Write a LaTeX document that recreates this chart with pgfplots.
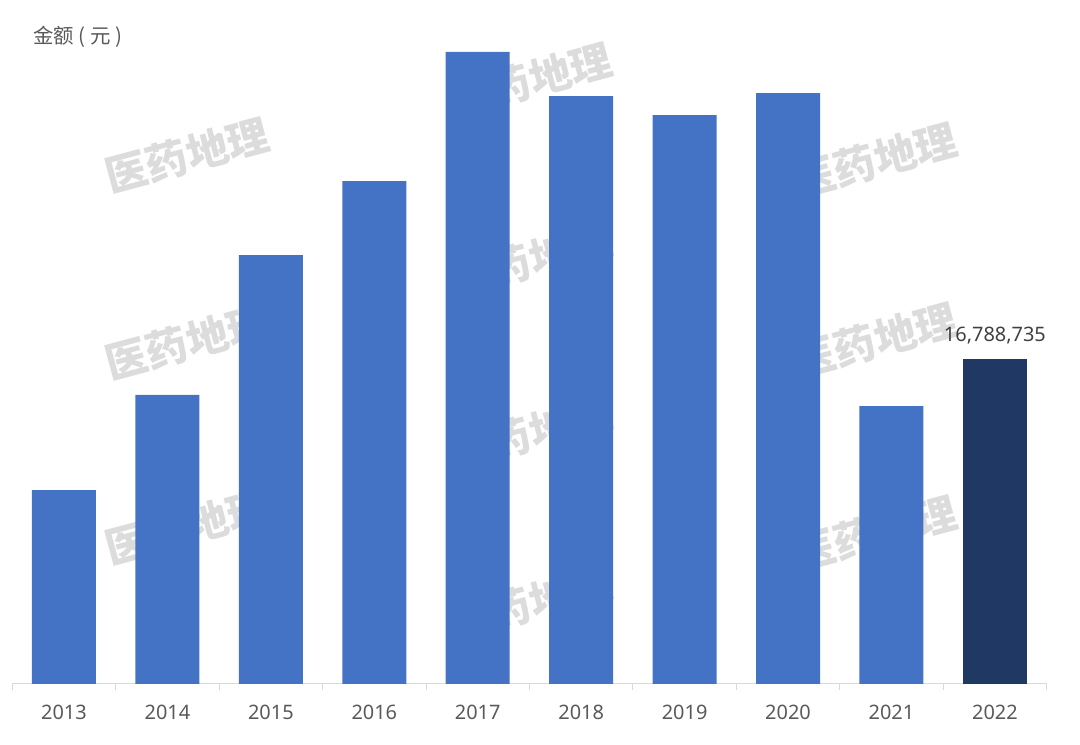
\documentclass[border=0pt]{standalone}
\usepackage{fontspec}
\usepackage{pgfplots}
\pgfplotsset{compat=1.18}
\setmainfont{Noto Sans}
\newfontfamily\cjk{Noto Sans CJK SC}
\definecolor{barblue}{HTML}{4472C4}
\definecolor{bardark}{HTML}{203864}
\definecolor{ticktxt}{HTML}{595959}
\definecolor{lbltxt}{HTML}{404040}
\definecolor{axline}{HTML}{D9D9D9}
\definecolor{wm}{HTML}{DCDCDC}
\begin{document}
\begin{tikzpicture}[x=1bp,y=1bp]
\useasboundingbox (0,0) rectangle (1080,745);
% watermarks (behind the bars)
\foreach \cx/\cy in {187/155,187/342,187/527,530/80,530/260,530/433,530/603,875/160,875/340,875/533}{
  \node[text=wm, rotate=15, inner sep=0pt, font={\cjk\bfseries\fontsize{42}{46}\selectfont}] at (\cx,745-\cy) {医药地理};
}
\begin{axis}[
  at={(12.28bp,61bp)}, anchor=south west,
  scale only axis,
  width=1034.4bp, height=677.5bp,
  xmin=-0.5, xmax=9.5,
  ymin=0, ymax=35000000,
  axis x line*=bottom,
  axis y line=none,
  axis line style={draw=axline, line width=1bp},
  xtick={0,...,9},
  xticklabels={2013,2014,2015,2016,2017,2018,2019,2020,2021,2022},
  major tick length=0pt,
  minor xtick={-0.5,0.5,...,9.5},
  minor tick length=6bp,
  tick align=outside,
  minor tick style={draw=axline, line width=1bp},
  xticklabel style={anchor=center, yshift=-28bp+\pgfkeysvalueof{/pgfplots/major tick length}*0, text=ticktxt, font=\fontsize{20}{24}\selectfont, inner sep=0pt},
  ybar,
  bar width=64bp,
  clip=false,
]
\addplot[fill=barblue, draw=none, bar shift=0pt] coordinates {
  (0,10020000) (1,14930000) (2,22160000) (3,25980000) (4,32650000)
  (5,30370000) (6,29390000) (7,30530000) (8,14360000)
};
\addplot[fill=bardark, draw=none, bar shift=0pt,
  nodes near coords={16,788,735},
  every node near coord/.append style={anchor=center, yshift=23bp, text=lbltxt, font=\fontsize{20}{24}\selectfont, inner sep=0pt}
] coordinates {(9,16788735)};
\end{axis}
\node[anchor=west, inner sep=0pt, text=ticktxt, font={\cjk\fontsize{20.5}{24}\selectfont}] at (33,708) {金额 ( 元 )};
\end{tikzpicture}
\end{document}
